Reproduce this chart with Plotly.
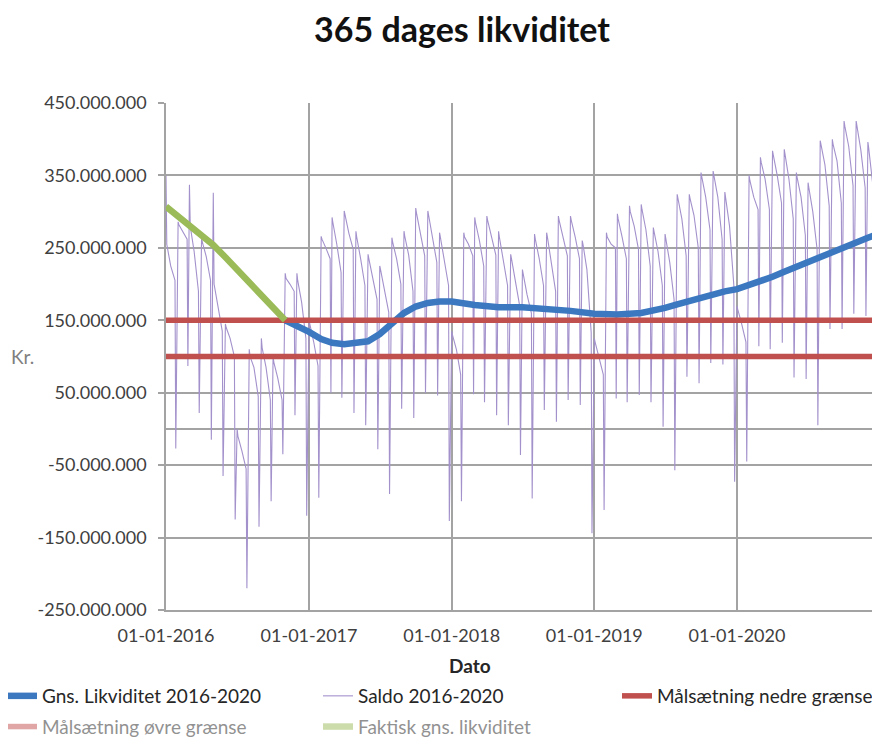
import plotly.graph_objects as go
import pandas as pd

# ---------------- data (mio. kr.) ----------------
year_ticks = ["2016-01-01", "2017-01-01", "2018-01-01", "2019-01-01", "2020-01-01"]
year_labels = ["01-01-2016", "01-01-2017", "01-01-2018", "01-01-2019", "01-01-2020"]

y_ticks = [-250, -150, -50, 50, 150, 250, 350, 450]
y_labels = ["-250.000.000", "-150.000.000", "-50.000.000", "50.000.000",
            "150.000.000", "250.000.000", "350.000.000", "450.000.000"]

# Saldo 2016-2020, monthly shape: month-start spike, level after spike, mid-month, before drop, trough
saldo_peak = [
    350, 286, 337, 265, 326, 145, 0, 110, 125, 100, 215, 215,
    150, 266, 292, 301, 273, 241, 225, 264, 273, 305, 301, 271,
    135, 271, 292, 294, 273, 241, 220, 269, 271, 294, 294, 260,
    125, 271, 297, 308, 310, 278, 269, 324, 324, 354, 356, 327,
    170, 350, 375, 384, 386, 354, 340, 398, 400, 425, 425, 396]
saldo_level = [
    255, 282, 280, 258, 200, 140, -10, 100, 112, 92, 208, 205,
    145, 262, 285, 295, 265, 235, 220, 258, 266, 298, 295, 265,
    130, 265, 285, 288, 265, 235, 214, 262, 265, 288, 288, 255,
    120, 265, 290, 300, 303, 272, 262, 318, 318, 348, 350, 320,
    165, 343, 368, 378, 378, 347, 333, 392, 393, 418, 418, 388]
saldo_mid = [
    225, 272, 245, 238, 170, 125, -30, 85, 85, 70, 200, 175,
    120, 250, 255, 270, 235, 210, 190, 235, 240, 270, 265, 235,
    110, 255, 260, 265, 235, 205, 185, 235, 230, 265, 265, 220,
    100, 255, 265, 280, 275, 245, 230, 290, 295, 320, 320, 280,
    145, 320, 345, 350, 345, 320, 300, 365, 370, 390, 385, 340]
saldo_predrop = [
    205, 262, 190, 205, 135, 100, -55, 45, 40, 40, 190, 125,
    87, 235, 216, 248, 198, 179, 161, 200, 190, 239, 230, 198,
    75, 239, 225, 240, 198, 170, 160, 198, 190, 239, 235, 133,
    75, 250, 235, 248, 225, 198, 179, 239, 250, 275, 262, 198,
    120, 303, 303, 312, 290, 267, 248, 308, 312, 336, 333, 225]
saldo_trough = [
    -27, 87, 22, -15, -65, -125, -220, -135, -100, -35, 19, -120,
    -95, 50, 43, 22, 5, -28, -90, 28, 15, 50, 46, -127,
    -100, 48, 37, 19, 5, -36, -96, 26, 10, 40, 33, -144,
    -112, 42, 37, 47, 37, 3, -57, 72, 63, 91, 89, -73,
    -45, 114, 110, 119, 71, 69, 5, 138, 138, 159, 156, 21]

# Gns. likviditet (rolling 365 days)
gns_dates = ["2016-11-01", "2016-12-01", "2017-01-01", "2017-02-01", "2017-03-01", "2017-04-01",
             "2017-05-01", "2017-06-01", "2017-07-01", "2017-08-01", "2017-09-01", "2017-10-01",
             "2017-11-01", "2017-12-01", "2018-01-01", "2018-03-01", "2018-05-01", "2018-07-01",
             "2018-09-01", "2018-11-01", "2019-01-01", "2019-03-01", "2019-05-01", "2019-06-01",
             "2019-07-01", "2019-08-01", "2019-09-01", "2019-10-01", "2019-11-01", "2019-12-01",
             "2020-01-01", "2020-02-01", "2020-03-01", "2020-04-01", "2020-05-01", "2020-06-01",
             "2020-07-01", "2020-08-01", "2020-09-01", "2020-10-01", "2020-11-01", "2020-12-01",
             "2020-12-31"]
gns_values = [150, 143, 134, 124, 119, 117, 118, 121, 131, 146, 160, 169,
              174, 176, 176, 171, 168, 168, 166, 163, 159, 158, 160, 163,
              167, 172, 177, 182, 186, 190, 193, 198, 203, 210, 217, 224,
              231, 238, 245, 252, 258, 264, 270]

# Faktisk gns. likviditet
fakt_dates = ["2016-01-01", "2016-02-01", "2016-03-01", "2016-04-01", "2016-05-01", "2016-06-01",
              "2016-07-01", "2016-08-01", "2016-09-01", "2016-10-01", "2016-11-01"]
fakt_values = [307, 293, 281, 268, 254, 237, 220, 202, 185, 167, 150]

# Målsætninger
limit_dates = ["2016-01-01", "2021-01-01"]
nedre_values = [100, 100]
oevre_values = [150, 150]

# ---------------- build saldo polyline ----------------
months = pd.date_range("2016-01-01", "2020-12-01", freq="MS")
day_offsets = [0, 2, 12, 23, 25]
series = [saldo_peak, saldo_level, saldo_mid, saldo_predrop, saldo_trough]
sx, sy = [], []
for i, m in enumerate(months):
    for d, s in zip(day_offsets, series):
        sx.append(m + pd.Timedelta(days=d))
        sy.append(s[i] * 1e6)

M = 1e6
BLUE = "#3b78c0"
RED = "#c0504d"
GREEN = "#9bbb59"
PURPLE = "#a391cc"
GRID = "#a3a3a3"
FONT = "Lato"

fig = go.Figure()
fig.add_trace(go.Scatter(x=sx, y=sy, mode="lines", name="Saldo 2016-2020",
                         line=dict(color=PURPLE, width=1.1), legend="legend2",
                         legendgroup="b1"))
fig.add_trace(go.Scatter(x=gns_dates, y=[v * M for v in gns_values], mode="lines",
                         name="Gns. Likviditet 2016-2020",
                         line=dict(color=BLUE, width=6.5), legend="legend", legendgroup="a1"))
fig.add_trace(go.Scatter(x=limit_dates, y=[v * M for v in nedre_values], mode="lines",
                         name="Målsætning nedre grænse",
                         line=dict(color=RED, width=5.5), legend="legend3", legendgroup="c1"))
fig.add_trace(go.Scatter(x=limit_dates, y=[v * M for v in oevre_values], mode="lines",
                         name="Målsætning øvre grænse", showlegend=False,
                         line=dict(color=RED, width=5.5)))
fig.add_trace(go.Scatter(x=fakt_dates, y=[v * M for v in fakt_values], mode="lines",
                         name="Faktisk gns. likviditet", showlegend=False,
                         line=dict(color=GREEN, width=6.5)))
# legend entries of row 2 (shown faded, as in the original)
fig.add_trace(go.Scatter(x=limit_dates, y=[v * M for v in oevre_values], mode="lines",
                         name="Målsætning øvre grænse", visible="legendonly",
                         line=dict(color=RED, width=5.5), legend="legend", legendgroup="a2"))
fig.add_trace(go.Scatter(x=fakt_dates, y=[v * M for v in fakt_values], mode="lines",
                         name="Faktisk gns. likviditet", visible="legendonly",
                         line=dict(color=GREEN, width=6.5), legend="legend2", legendgroup="b2"))

# page has an 8px body margin: figure is drawn 8px right/down, so size it accordingly
OFF = 8
W, H = 880 - OFF, 737 - OFF
L, R, T = 166 - OFF, 0, 103 - OFF
B = H - (610 - OFF)
pw, ph = W - L - R, H - T - B

def px_x(p):  # page pixel -> paper x
    return (p - OFF - L) / pw

def px_y(p):  # page pixel -> paper y
    return (H - B - (p - OFF)) / ph

leg_common = dict(orientation="v", xref="paper", yref="paper", yanchor="top", xanchor="left",
                  font=dict(family=FONT, size=19, color="#262626"), bgcolor="rgba(0,0,0,0)",
                  traceorder="grouped", tracegroupgap=3, itemclick=False, itemdoubleclick=False)

fig.update_layout(
    width=W, height=H,
    margin=dict(l=L, r=R, t=T, b=B, autoexpand=False),
    paper_bgcolor="white", plot_bgcolor="white",
    font=dict(family=FONT, color="#404040"),
    title=dict(text="<b>365 dages likviditet</b>", x=(462 - OFF) / W, y=1 - (30 - OFF) / H,
               xref="container", yref="container", xanchor="center", yanchor="middle",
               font=dict(family=FONT, size=34, color="#111111")),
    xaxis=dict(type="date", range=["2016-01-01", "2021-01-01"],
               tickvals=year_ticks, ticktext=year_labels,
               showgrid=True, gridcolor=GRID, gridwidth=1.5,
               showline=True, linecolor=GRID, linewidth=1.5,
               ticks="", ticklabelstandoff=9,
               tickfont=dict(family=FONT, size=18, color="#404040"),
               zeroline=False),
    yaxis=dict(range=[-250 * M, 450 * M],
               tickvals=[v * M for v in y_ticks], ticktext=y_labels,
               showgrid=True, gridcolor=GRID, gridwidth=1.5,
               showline=True, linecolor=GRID, linewidth=1.5,
               ticks="outside", ticklen=6, tickcolor=GRID, tickwidth=1.5,
               ticklabelstandoff=8,
               tickfont=dict(family=FONT, size=18, color="#404040"),
               zeroline=True, zerolinecolor=GRID, zerolinewidth=1.5),
    legend=dict(leg_common, x=px_x(2), y=px_y(677)),
    legend2=dict(leg_common, x=px_x(318), y=px_y(677)),
    legend3=dict(leg_common, x=px_x(617), y=px_y(677)),
    annotations=[
        dict(text="Kr.", xref="paper", yref="paper", x=px_x(22), y=px_y(356),
             xanchor="center", yanchor="middle", showarrow=False,
             font=dict(family=FONT, size=19, color="#7f7f7f")),
        dict(text="<b>Dato</b>", xref="paper", yref="paper", x=px_x(470), y=px_y(665),
             xanchor="center", yanchor="middle", showarrow=False,
             font=dict(family=FONT, size=19, color="#262626")),
    ],
    showlegend=True,
)

fig.write_html("out.html")
